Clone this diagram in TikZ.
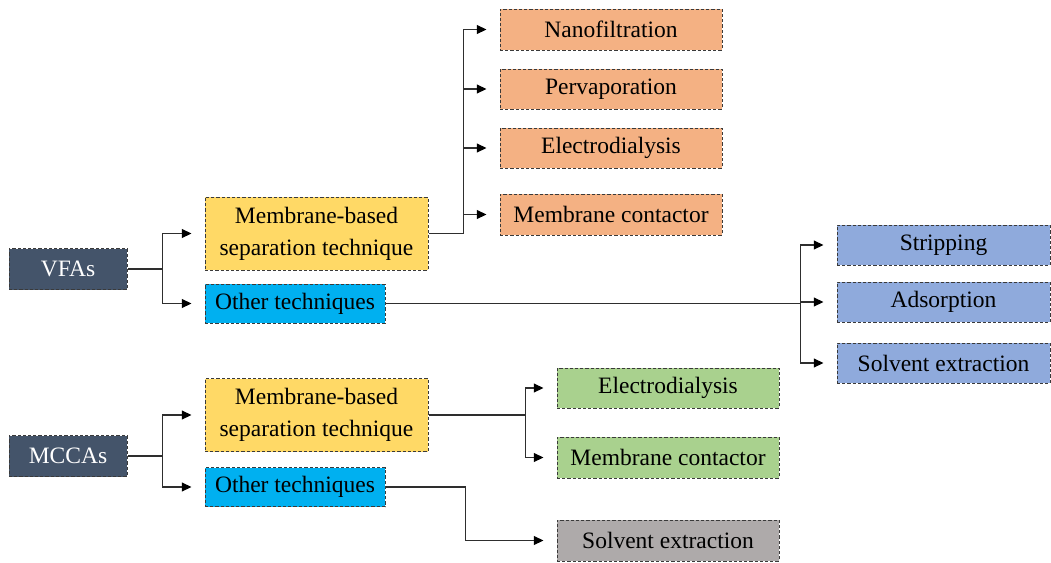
\documentclass[tikz,border=0pt]{standalone}
\usepackage{fontspec}
\setmainfont{Liberation Serif}
\usetikzlibrary{arrows.meta}
\definecolor{SlateDark}{HTML}{44546A}
\definecolor{SoftYellow}{HTML}{FFD966}
\definecolor{SkyBlue}{HTML}{00B0F0}
\definecolor{SoftOrange}{HTML}{F4B183}
\definecolor{Periwinkle}{HTML}{8FAADC}
\definecolor{SoftGreen}{HTML}{A9D18E}
\definecolor{WarmGray}{HTML}{AEAAAA}
\definecolor{BorderGray}{HTML}{3A3A3A}
\definecolor{LineGray}{HTML}{2E2E2E}
\tikzset{
  box/.style={draw=BorderGray,dash pattern=on 1.6pt off 1pt,line width=0.5pt,inner sep=2pt,align=center,font=\fontsize{11.75}{16}\selectfont},
  rootbox/.style={box,fill=SlateDark,text=white,minimum width=59pt,minimum height=20.5pt},
  membox/.style={box,fill=SoftYellow,minimum width=111.5pt,minimum height=36.5pt},
  otherbox/.style={box,fill=SkyBlue,minimum width=90pt,minimum height=19.5pt},
  link/.style={draw=LineGray,line width=0.6pt},
  arrowlink/.style={link,-{Triangle[length=4.8pt,width=4.4pt,color=black]},shorten >=6.5pt}
}
\begin{document}
\begin{tikzpicture}[x=0.5pt,y=-0.5pt]
\useasboundingbox (0,0) rectangle (1051,563);
% VFAs branch
\node[rootbox] (vfa) at (68,269) {VFAs};
\node[membox] (vfaMem) at (316.5,233.5) {Membrane-based\\separation technique};
\node[otherbox] (vfaOther) at (295,303.5) {Other techniques};
\node[box,fill=SoftOrange,minimum width=111pt,minimum height=20.5pt] (nano) at (611,29.5) {Nanofiltration};
\node[box,fill=SoftOrange,minimum width=111pt,minimum height=20pt] (perva) at (611,89) {Pervaporation};
\node[box,fill=SoftOrange,minimum width=111pt,minimum height=20pt] (edOne) at (611,148) {Electrodialysis};
\node[box,fill=SoftOrange,minimum width=111pt,minimum height=20.5pt] (mcOne) at (611,214.5) {Membrane contactor};
\node[box,fill=Periwinkle,minimum width=106.5pt,minimum height=20pt] (strip) at (943.5,245) {Stripping};
\node[box,fill=Periwinkle,minimum width=106.5pt,minimum height=20pt] (adsorb) at (943.5,302) {Adsorption};
\node[box,fill=Periwinkle,minimum width=106.5pt,minimum height=20pt] (seOne) at (943.5,363) {Solvent extraction};
% MCCAs branch
\node[rootbox] (mcca) at (68,456) {MCCAs};
\node[membox] (mccaMem) at (316.5,415) {Membrane-based\\separation technique};
\node[otherbox] (mccaOther) at (295,487) {Other techniques};
\node[box,fill=SoftGreen,minimum width=111pt,minimum height=20pt] (edTwo) at (668,388) {Electrodialysis};
\node[box,fill=SoftGreen,minimum width=111pt,minimum height=20.5pt] (mcTwo) at (668,457.5) {Membrane contactor};
\node[box,fill=WarmGray,minimum width=111pt,minimum height=20.5pt] (seTwo) at (668,540.5) {Solvent extraction};
% connectors
\draw[link] (vfa.east) -- ++(35,0) coordinate (vfaFork);
\draw[arrowlink] (vfaFork) |- (vfaMem.west);
\draw[arrowlink] (vfaFork) |- (vfaOther.west);
\draw[link] (vfaMem.east) -- ++(35,0) coordinate (memFork);
\foreach \t in {nano,perva,edOne,mcOne}
  \draw[arrowlink] (memFork) |- (\t.west);
\draw[link] (vfaOther.east) -- ++(415,0) coordinate (otherFork);
\foreach \t in {strip,adsorb,seOne}
  \draw[arrowlink] (otherFork) |- (\t.west);
\draw[link] (mcca.east) -- ++(35,0) coordinate (mccaFork);
\draw[arrowlink] (mccaFork) |- (mccaMem.west);
\draw[arrowlink] (mccaFork) |- (mccaOther.west);
\draw[link] (mccaMem.east) -- ++(97,0) coordinate (memForkTwo);
\draw[arrowlink] (memForkTwo) |- (edTwo.west);
\draw[arrowlink] (memForkTwo) |- (mcTwo.west);
\draw[arrowlink] (mccaOther.east) -- ++(80,0) |- (seTwo.west);
\end{tikzpicture}
\end{document}
